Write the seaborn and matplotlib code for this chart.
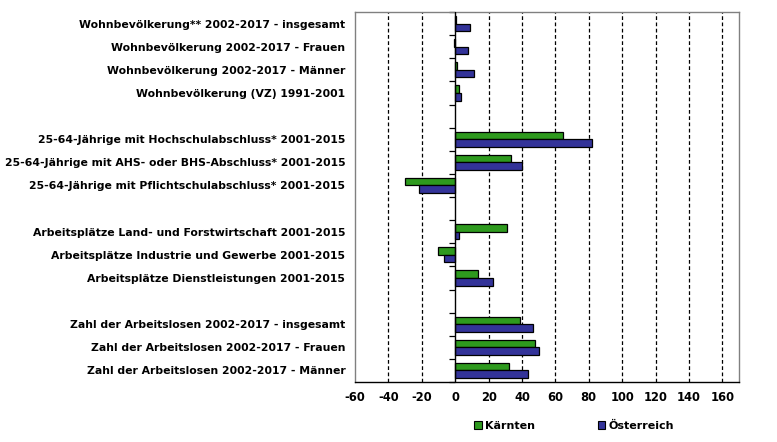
import matplotlib
matplotlib.use("Agg")
import matplotlib.pyplot as plt
import seaborn as sns
import pandas as pd
import numpy as np
from matplotlib.patches import Patch

categories = [
    "Wohnbevölkerung** 2002-2017 - insgesamt",
    "Wohnbevölkerung 2002-2017 - Frauen",
    "Wohnbevölkerung 2002-2017 - Männer",
    "Wohnbevölkerung (VZ) 1991-2001",
    " ",
    "25-64-Jährige mit Hochschulabschluss* 2001-2015",
    "25-64-Jährige mit AHS- oder BHS-Abschluss* 2001-2015",
    "25-64-Jährige mit Pflichtschulabschluss* 2001-2015",
    "  ",
    "Arbeitsplätze Land- und Forstwirtschaft 2001-2015",
    "Arbeitsplätze Industrie und Gewerbe 2001-2015",
    "Arbeitsplätze Dienstleistungen 2001-2015",
    "   ",
    "Zahl der Arbeitslosen 2002-2017 - insgesamt",
    "Zahl der Arbeitslosen 2002-2017 - Frauen",
    "Zahl der Arbeitslosen 2002-2017 - Männer",
]
kaernten = [0.6, -0.5, 1.2, 2.4, np.nan, 64.5, 33.6, -30.0, np.nan,
            31.2, -10.2, 13.8, np.nan, 38.6, 48.0, 32.0]
oesterreich = [9.0, 7.8, 11.0, 3.2, np.nan, 82.0, 39.8, -21.6, np.nan,
               2.4, -6.4, 22.8, np.nan, 46.8, 50.4, 43.8]
series = ["Kärnten", "Österreich"]
colors = ["#2e9a1e", "#333399"]
xticks = list(range(-60, 161, 20))

df = pd.DataFrame({
    "Kategorie": categories * 2,
    "Wert": kaernten + oesterreich,
    "Region": [series[0]] * len(categories) + [series[1]] * len(categories),
})

sns.set_style("white")
plt.rcParams["font.family"] = ["DejaVu Sans"]
plt.rcParams["text.color"] = "black"
plt.rcParams["xtick.color"] = "black"
plt.rcParams["ytick.color"] = "black"
plt.rcParams["axes.labelcolor"] = "black"

fig = plt.figure(figsize=(7.77, 4.42), dpi=100)
ax = fig.add_axes([355 / 777, 1 - 382 / 442, (739 - 355) / 777, (382 - 12) / 442])

sns.barplot(data=df, y="Kategorie", x="Wert", hue="Region", order=categories,
            hue_order=series, palette=colors, saturation=1, orient="h", width=0.66,
            edgecolor="black", linewidth=0.9, ax=ax, legend=False)

ax.set_xlim(-60, 170)
ax.set_ylim(len(categories) - 0.5, -0.5)
ax.set_xticks(xticks)
ax.set_xticklabels([str(t) for t in xticks], fontsize=8.3, fontweight="bold", color="black")
ax.set_yticks(range(len(categories)))
ax.set_yticklabels(categories, fontsize=7.8, fontweight="bold", color="black")
ax.tick_params(axis="y", length=0, pad=7)
ax.tick_params(axis="x", direction="inout", length=5, width=0.9, color="black", pad=4)
ax.set_xlabel("")
ax.set_ylabel("")

for t in xticks:
    if t == 0 or t == -60:
        continue
    ax.axvline(t, color="black", linestyle=(0, (3, 2)), linewidth=0.9, zorder=0)
ax.axvline(0, color="black", linewidth=1.0, zorder=3)

for side in ["left", "top", "right"]:
    ax.spines[side].set_color("#808080")
    ax.spines[side].set_linewidth(1.0)
ax.spines["bottom"].set_color("black")
ax.spines["bottom"].set_linewidth(1.0)

# category axis ticks at zero crossing
sec = ax.secondary_yaxis(60 / 230)
sec.set_yticks(np.arange(-0.5, len(categories), 1.0))
sec.set_yticklabels([])
sec.tick_params(axis="y", direction="out", length=4, width=0.9, color="black")
sec.spines["left"].set_visible(False)

handles = [Patch(facecolor=c, edgecolor="black", linewidth=0.8) for c in colors]
fig.legend(handles, series, loc="center", bbox_to_anchor=(0.739, 1 - 426 / 442),
           ncol=2, frameon=False, handlelength=0.7, handleheight=0.7,
           handletextpad=0.3, columnspacing=5.6, labelcolor="black",
           prop={"size": 8.0, "weight": "bold"})

fig.savefig("out.png", dpi=100)
